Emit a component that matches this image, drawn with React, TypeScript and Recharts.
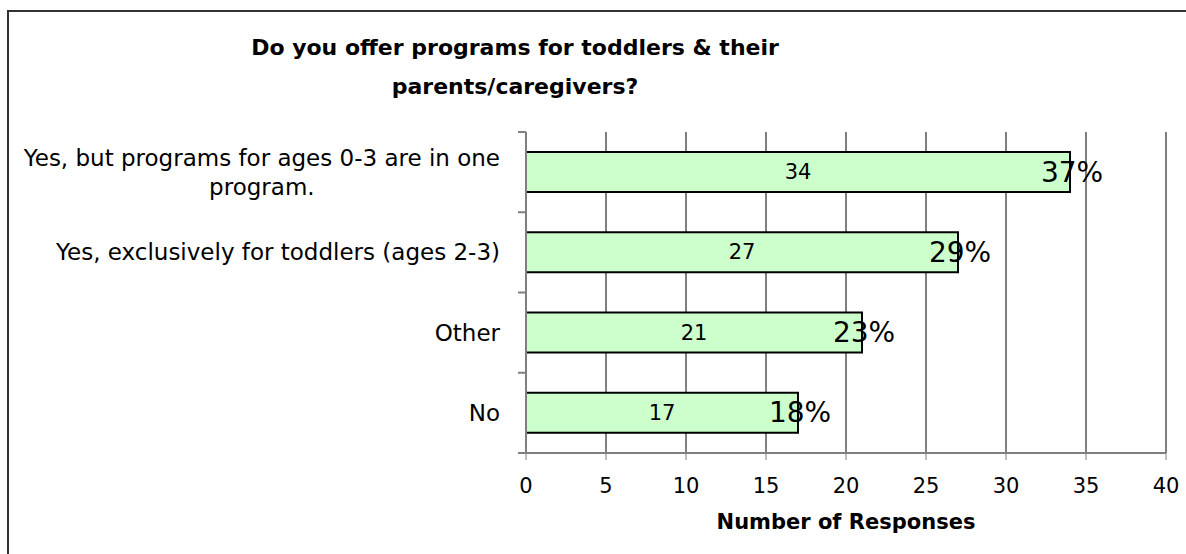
import { BarChart, Bar, XAxis, YAxis, CartesianGrid, LabelList, Label } from 'recharts';

// survey answers, top to bottom as drawn
const categories = [
  'Yes, but programs for ages 0-3 are in one program.',
  'Yes, exclusively for toddlers (ages 2-3)',
  'Other',
  'No',
];
const responses = [34, 27, 21, 17];
const percents = [37, 29, 23, 18];
const xTicks = [0, 5, 10, 15, 20, 25, 30, 35, 40];

const data = categories.map((name, i) => ({
  name,
  value: responses[i],
  pct: percents[i],
}));

const W = 1186;
const H = 554;
const PLOT_TOP = 132;
const PLOT_BOTTOM = 453;
const AXIS_X = 526;
const PLOT_RIGHT = 1166;
const BAND = (PLOT_BOTTOM - PLOT_TOP) / categories.length;
const FONT = "'DejaVu Sans', Verdana, sans-serif";
const LABEL_SIZE = 23;
const AXIS_GRAY = '#7f7f7f';

let ctx: CanvasRenderingContext2D | null = null;
function textWidth(s: string, size: number) {
  if (!ctx) ctx = document.createElement('canvas').getContext('2d');
  if (!ctx) return s.length * size * 0.6;
  ctx.font = `${size}px ${FONT}`;
  return ctx.measureText(s).width;
}

// simple word wrap, like the spreadsheet does for long category names
function wrap(s: string, max: number, size: number) {
  const words = s.split(' ');
  const lines: string[] = [];
  let cur = '';
  words.forEach((w) => {
    const next = cur ? `${cur} ${w}` : w;
    if (cur && textWidth(next, size) > max) {
      lines.push(cur);
      cur = w;
    } else {
      cur = next;
    }
  });
  if (cur) lines.push(cur);
  return lines;
}

const CategoryTick = ({ y, payload, index }: any) => {
  const lines = wrap(String(payload.value), 490, LABEL_SIZE);
  const blockW = Math.max(...lines.map((l) => textWidth(l, LABEL_SIZE)));
  const right = AXIS_X - 26;
  const lh = 29;
  const top = y - ((lines.length - 1) * lh) / 2;
  return (
    <g>
      <line
        x1={AXIS_X - 8}
        x2={AXIS_X}
        y1={y - BAND / 2}
        y2={y - BAND / 2}
        stroke={AXIS_GRAY}
        strokeWidth={2}
      />
      {index === categories.length - 1 && (
        <line
          x1={AXIS_X - 8}
          x2={AXIS_X}
          y1={y + BAND / 2}
          y2={y + BAND / 2}
          stroke={AXIS_GRAY}
          strokeWidth={2}
        />
      )}
      <text
        textAnchor="middle"
        fontSize={LABEL_SIZE}
        fill="#000"
        dominantBaseline="central"
      >
        {lines.map((l, i) => (
          <tspan key={i} x={right - blockW / 2} y={top + i * lh}>
            {l}
          </tspan>
        ))}
      </text>
    </g>
  );
};

const ValueLabel = (props: any) => {
  const { x, y, width, height, value } = props;
  return (
    <text
      x={Number(x) + Number(width) / 2}
      y={Number(y) + Number(height) / 2}
      textAnchor="middle"
      dominantBaseline="central"
      fontSize={21}
      fill="#000"
    >
      {value}
    </text>
  );
};

const PctLabel = (props: any) => {
  const { x, y, width, height, value } = props;
  return (
    <text
      x={Number(x) + Number(width) + 2}
      y={Number(y) + Number(height) / 2}
      textAnchor="middle"
      dominantBaseline="central"
      fontSize={28}
      fill="#000"
    >
      {value}%
    </text>
  );
};

export default function App() {
  return (
    <div
      style={{
        position: 'absolute',
        left: 0,
        top: 0,
        width: W,
        height: H,
        overflow: 'hidden',
        background: '#fff',
        fontFamily: FONT,
      }}
    >
      <div
        style={{
          position: 'absolute',
          left: 7,
          top: 10,
          width: W - 7,
          height: H - 10,
          boxSizing: 'border-box',
          borderLeft: '2px solid #333',
          borderTop: '2px solid #333',
        }}
      />
      <div
        style={{
          position: 'absolute',
          left: 0,
          top: 28,
          width: 1030,
          textAlign: 'center',
          fontWeight: 'bold',
          fontSize: 22,
          lineHeight: '39px',
          color: '#000',
        }}
      >
        Do you offer programs for toddlers &amp; their
        <br />
        parents/caregivers?
      </div>
      <div style={{ position: 'absolute', left: 0, top: 0 }}>
        <BarChart
          width={W}
          height={H}
          data={data}
          layout="vertical"
          margin={{ top: PLOT_TOP, right: W - PLOT_RIGHT, bottom: 0, left: 0 }}
        >
          <CartesianGrid
            horizontal={false}
            vertical={true}
            stroke="#000"
            strokeWidth={1}
          />
          <XAxis
            type="number"
            domain={[0, 40]}
            ticks={xTicks}
            interval={0}
            height={H - PLOT_BOTTOM}
            tickSize={7}
            tickMargin={18}
            stroke={AXIS_GRAY}
            axisLine={{ stroke: AXIS_GRAY, strokeWidth: 2 }}
            tickLine={{ stroke: AXIS_GRAY, strokeWidth: 1 }}
            tick={{ fill: '#000', fontSize: 21 }}
          >
            <Label
              value="Number of Responses"
              position="insideBottom"
              offset={25}
              fill="#000"
              fontSize={21}
              fontWeight="bold"
            />
          </XAxis>
          <YAxis
            type="category"
            dataKey="name"
            width={AXIS_X}
            tickLine={false}
            axisLine={{ stroke: AXIS_GRAY, strokeWidth: 2 }}
            tick={<CategoryTick />}
            interval={0}
          />
          <Bar
            dataKey="value"
            fill="#ccffcc"
            stroke="#000"
            strokeWidth={2}
            barSize={40}
            isAnimationActive={false}
          >
            <LabelList dataKey="value" content={<ValueLabel />} />
            <LabelList dataKey="pct" content={<PctLabel />} />
          </Bar>
        </BarChart>
      </div>
    </div>
  );
}
